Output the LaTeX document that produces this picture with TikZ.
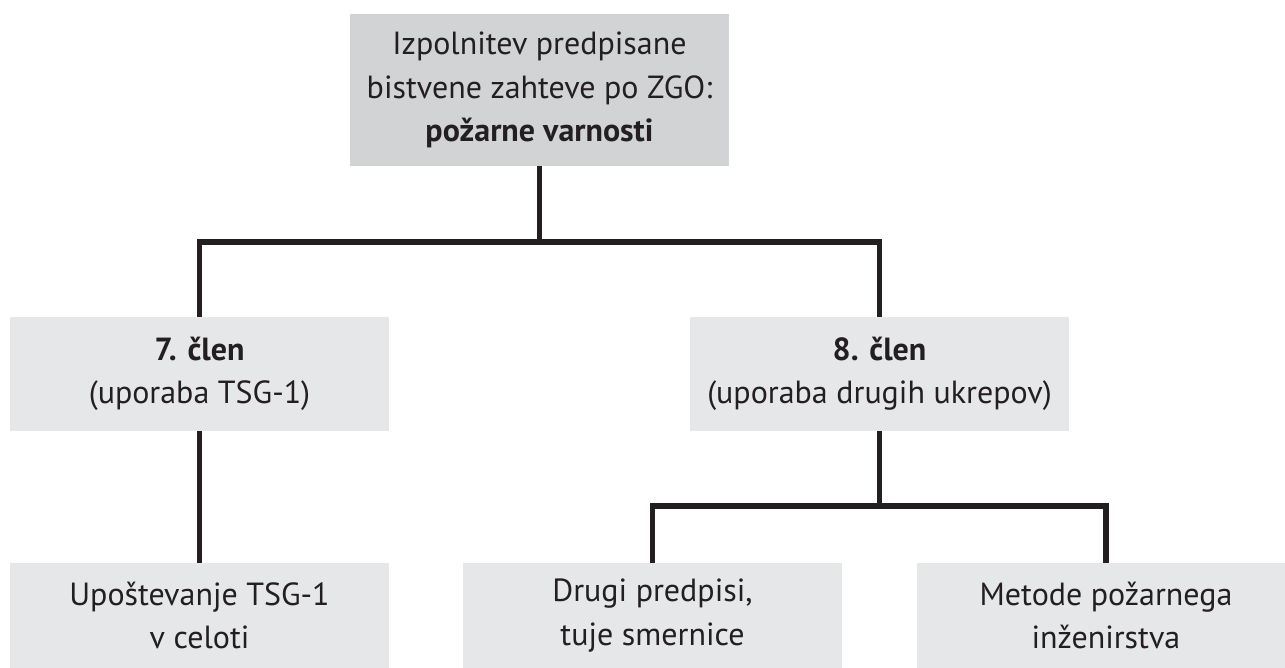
\documentclass[tikz,border=0pt]{standalone}
\usepackage{fontspec}
\setmainfont{PT Sans}
\definecolor{topgrey}{HTML}{D1D3D4}
\definecolor{boxgrey}{HTML}{E6E7E8}
\definecolor{ink}{HTML}{231F20}
\tikzset{
  boxbase/.style={inner sep=0pt, minimum width=379pt, align=center, text=ink,
    font=\fontsize{32}{43.5}\selectfont},
  topbox/.style={boxbase, fill=topgrey, minimum height=152pt},
  midbox/.style={boxbase, fill=boxgrey, minimum height=114pt},
  lowbox/.style={boxbase, fill=boxgrey, minimum height=105pt},
  link/.style={draw=ink, line width=5.2pt, line join=miter}
}
\begin{document}
\begin{tikzpicture}[x=1pt, y=-1pt]
\useasboundingbox (0,0) rectangle (1285,668);
\clip (0,0) rectangle (1285,668);
\node[topbox] (top) at (539.5,90) {Izpolnitev predpisane\\bistvene zahteve po ZGO:\\\textbf{požarne varnosti}};
\node[midbox] (c7) at (199.5,374) {\textbf{7. člen}\\(uporaba TSG-1)};
\node[midbox] (c8) at (879.5,374) {\textbf{8. člen}\\(uporaba drugih ukrepov)};
\node[lowbox] (u1) at (199.5,615.5) {Upoštevanje TSG-1\\v celoti};
\node[lowbox] (u2) at (652.5,615.5) {Drugi predpisi,\\tuje smernice};
\node[lowbox] (u3) at (1106,615.5) {Metode požarnega\\inženirstva};
\coordinate (j1) at (539.5,242);
\coordinate (j2) at (879.5,506);
\draw[link] (top.south) -- (j1);
\draw[link] (c7.north) |- (j1) -| (c8.north);
\draw[link] (c7.south) -- (u1.north);
\draw[link] (c8.south) -- (j2);
\draw[link] (u2.north) |- (j2) -| (u3.north);
\end{tikzpicture}
\end{document}
